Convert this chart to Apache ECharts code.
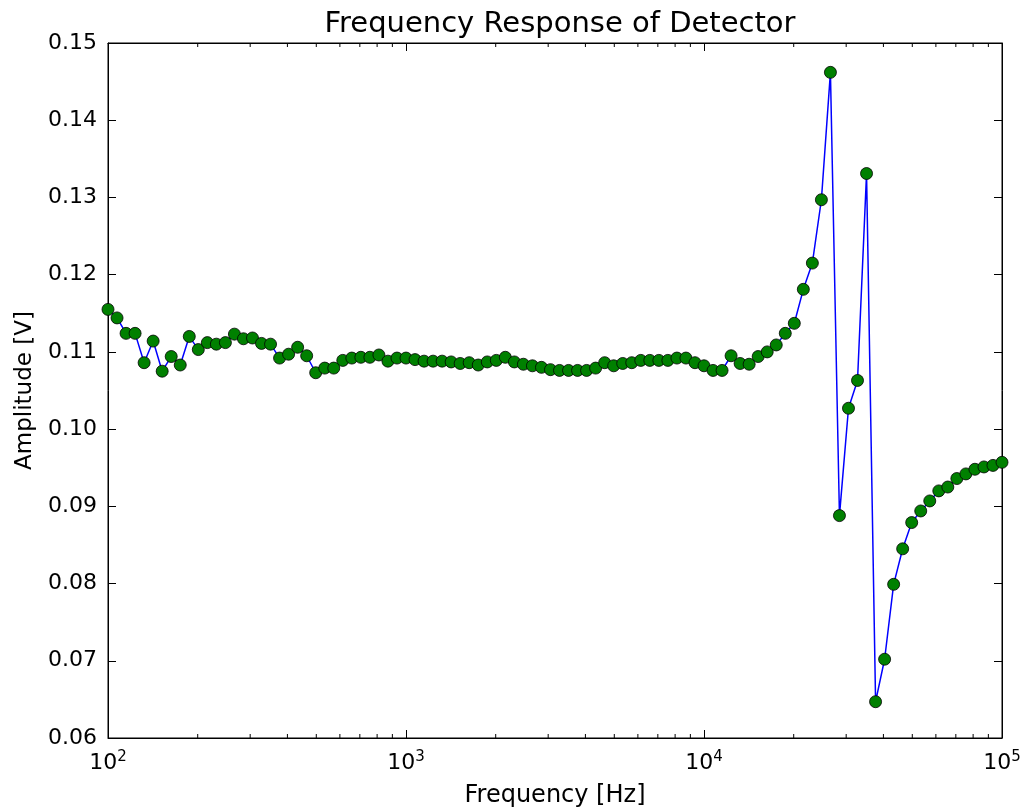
<!DOCTYPE html>
<html lang="en">
<head>
    <meta charset="UTF-8">
    <title>Frequency Response of Detector</title>
    <style>
        body { margin: 0; background: #fff; }
        #chart { width: 1028px; height: 812px; }
    </style>
    <script src="https://cdn.jsdelivr.net/npm/echarts@6/dist/echarts.min.js"></script>
</head>
<body>
<div id="chart"></div>
<script>
// frequency points (Hz), log spaced
var freqs = [
    100, 107.23, 114.98, 123.28, 132.19, 141.75, 151.99, 162.98, 174.75, 187.38,
    200.92, 215.44, 231.01, 247.71, 265.61, 284.80, 305.39, 327.45, 351.12, 376.49,
    403.70, 432.88, 464.16, 497.70, 533.67, 572.24, 613.59, 657.93, 705.48, 756.46,
    811.13, 869.75, 932.60, 1000, 1072.3, 1149.8, 1232.8, 1321.9, 1417.5, 1519.9,
    1629.8, 1747.5, 1873.8, 2009.2, 2154.4, 2310.1, 2477.1, 2656.1, 2848.0, 3053.9,
    3274.5, 3511.2, 3764.9, 4037.0, 4328.8, 4641.6, 4977.0, 5336.7, 5722.4, 6135.9,
    6579.3, 7054.8, 7564.6, 8111.3, 8697.5, 9326.0, 10000, 10723, 11498, 12328,
    13219, 14175, 15199, 16298, 17475, 18738, 20092, 21544, 23101, 24771,
    26561, 28480, 30539, 32745, 35112, 37649, 40370, 43288, 46416, 49770,
    53367, 57224, 61359, 65793, 70548, 75646, 81113, 86975, 93260, 100000
];
// measured amplitude (V)
var amplitude = [
    0.1155, 0.1144, 0.1124, 0.1124, 0.1086, 0.1114, 0.1075, 0.1094, 0.1083, 0.1120,
    0.1103, 0.1112, 0.1110, 0.1112, 0.1123, 0.1117, 0.1118, 0.1111, 0.1110, 0.1092,
    0.1097, 0.1106, 0.1095, 0.1073, 0.1079, 0.1079, 0.1089, 0.1092, 0.1093, 0.1093,
    0.1096, 0.1088, 0.1092, 0.1092, 0.1090, 0.1088, 0.1088, 0.1088, 0.1087, 0.1085,
    0.1086, 0.1083, 0.1087, 0.1089, 0.1093, 0.1087, 0.1084, 0.1082, 0.1080, 0.1077,
    0.1076, 0.1076, 0.1076, 0.1076, 0.1079, 0.1086, 0.1082, 0.1085, 0.1086, 0.1089,
    0.1089, 0.1089, 0.1089, 0.1092, 0.1092, 0.1086, 0.1082, 0.1076, 0.1076, 0.1095,
    0.1085, 0.1084, 0.1094, 0.1100, 0.1109, 0.1124, 0.1137, 0.1181, 0.1215, 0.1297,
    0.1462, 0.0888, 0.1027, 0.1063, 0.1331, 0.0647, 0.0702, 0.0799, 0.0845, 0.0879,
    0.0894, 0.0907, 0.0920, 0.0925, 0.0936, 0.0942, 0.0948, 0.0951, 0.0953, 0.0957
];
// minor tick positions on the log axis
var minorTicks = [
    200, 300, 400, 500, 600, 700, 800, 900,
    2000, 3000, 4000, 5000, 6000, 7000, 8000, 9000,
    20000, 30000, 40000, 50000, 60000, 70000, 80000, 90000
];
var yMin = 0.06, yMax = 0.15;

var font = 'DejaVu Sans';
var chart = echarts.init(document.getElementById('chart'));

var points = freqs.map(function (f, i) { return [f, amplitude[i]]; });

function logLabel(v) {
    var e = Math.round(Math.log10(v));
    return '{b|10}{s|' + e + '}';
}

var option = {
    animation: false,
    backgroundColor: '#fff',
    title: {
        text: 'Frequency Response of Detector',
        left: 555,
        top: 5,
        textAlign: 'center',
        textStyle: { fontFamily: font, fontSize: 29, fontWeight: 'normal', color: '#000' }
    },
    grid: {
        left: 108, right: 26, top: 43, bottom: 74,
        outerBoundsMode: 'none', containLabel: false,
        show: true, borderColor: '#000', borderWidth: 1
    },
    xAxis: [
        {
            type: 'log', logBase: 10, min: 100, max: 100000,
            name: 'Frequency [Hz]', nameLocation: 'middle', nameGap: 46,
            nameTextStyle: { fontFamily: font, fontSize: 24, color: '#000' },
            axisLine: { show: true, lineStyle: { color: '#000', width: 1 } },
            axisTick: { inside: true, length: 8, lineStyle: { color: '#000' } },
            splitLine: { show: false },
            axisLabel: {
                margin: 12, color: '#000', fontFamily: font,
                formatter: logLabel,
                rich: {
                    b: { fontSize: 22, fontFamily: font, color: '#000' },
                    s: { fontSize: 15, fontFamily: font, color: '#000', verticalAlign: 'top', padding: [0, 0, 12, 0] }
                }
            }
        },
        {
            type: 'log', logBase: 10, min: 100, max: 100000, position: 'top',
            axisLine: { show: true, lineStyle: { color: '#000', width: 1 } },
            axisTick: { inside: true, length: 8, lineStyle: { color: '#000' } },
            axisLabel: { show: false },
            splitLine: { show: false }
        }
    ],
    yAxis: [
        {
            type: 'value', min: yMin, max: yMax, interval: 0.01,
            name: 'Amplitude [V]', nameLocation: 'middle', nameGap: 71,
            nameTextStyle: { fontFamily: font, fontSize: 23, color: '#000' },
            axisLine: { show: true, lineStyle: { color: '#000', width: 1 } },
            axisTick: { show: true, inside: true, length: 8, lineStyle: { color: '#000' } },
            splitLine: { show: false },
            axisLabel: {
                margin: 11, color: '#000', fontFamily: font, fontSize: 22,
                formatter: function (v) { return v.toFixed(2); }
            }
        },
        {
            type: 'value', min: yMin, max: yMax, interval: 0.01, position: 'right',
            axisLine: { show: true, lineStyle: { color: '#000', width: 1 } },
            axisTick: { show: true, inside: true, length: 8, lineStyle: { color: '#000' } },
            axisLabel: { show: false },
            splitLine: { show: false }
        }
    ],
    series: [
        {
            // minor ticks at 2..9 x decade, bottom and top edges
            type: 'custom',
            xAxisIndex: 0, yAxisIndex: 0,
            silent: true,
            data: minorTicks,
            renderItem: function (params, api) {
                var f = api.value(0);
                var bot = api.coord([f, yMin]);
                var top = api.coord([f, yMax]);
                var st = { stroke: '#000', lineWidth: 1 };
                return {
                    type: 'group',
                    children: [
                        { type: 'line', shape: { x1: bot[0], y1: bot[1], x2: bot[0], y2: bot[1] - 4 }, style: st },
                        { type: 'line', shape: { x1: top[0], y1: top[1], x2: top[0], y2: top[1] + 4 }, style: st }
                    ]
                };
            },
            encode: { x: 0 }
        },
        {
            type: 'line',
            data: points,
            symbol: 'circle',
            symbolSize: 12,
            lineStyle: { color: '#0000ff', width: 1.5 },
            itemStyle: { color: '#008000', borderColor: '#000', borderWidth: 0.8 },
            z: 3
        }
    ]
};
chart.setOption(option);
</script>
</body>
</html>
